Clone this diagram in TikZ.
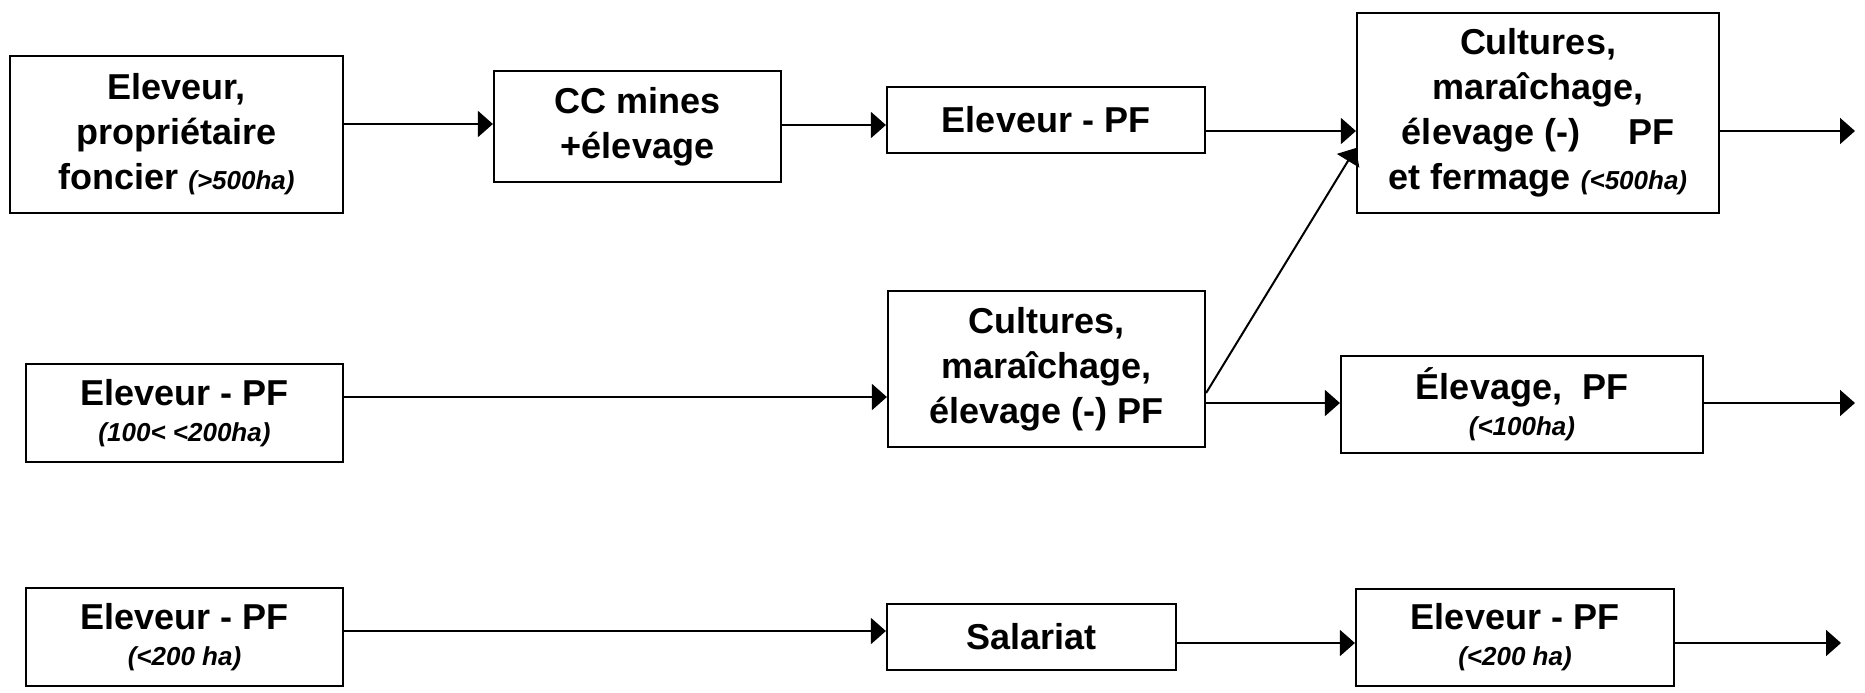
\documentclass[tikz,border=0pt]{standalone}
\usepackage{fontspec}
\setmainfont{Liberation Sans}
\usetikzlibrary{arrows.meta}
\newcommand\smallit[1]{{\fontsize{13}{15}\selectfont\itshape #1}}
\begin{document}
\begin{tikzpicture}[x=0.5pt,y=-0.5pt,
 box/.style={draw, line width=1.1pt, align=center, inner sep=0pt, font=\fontsize{18}{22.5}\selectfont\bfseries},
 arr/.style={line width=1pt, -{Triangle[length=7.5pt,width=13pt]}}]
\useasboundingbox[fill=white] (0,0) rectangle (1865,692);
% row 1
\node[box, minimum width=166.5pt, minimum height=78.5pt] (A) at (176.5,134.5)
 {Eleveur,\\ propriétaire\\ foncier \smallit{(>500ha)}};
\node[box, minimum width=143.5pt, minimum height=55.5pt] (B) at (637.5,126.5)
 {CC mines\\ +élevage};
\node[box, minimum width=159pt, minimum height=33pt] (C) at (1046,120)
 {Eleveur - PF};
\node[box, minimum width=181pt, minimum height=100pt] (D) at (1538,113)
 {Cultures,\\ maraîchage,\\ élevage (-)\hspace{24pt}PF\\ et fermage \smallit{(<500ha)}};
% row 2
\node[box, minimum width=158.5pt, minimum height=49pt] (E) at (184.5,413)
 {Eleveur - PF\\[-4.5pt] \smallit{(100< <200ha)}};
\node[box, minimum width=158.5pt, minimum height=78pt] (F) at (1046.5,369)
 {Cultures,\\ maraîchage,\\ élevage (-) PF};
\node[box, minimum width=181pt, minimum height=48.5pt] (G) at (1522,404.5)
 {Élevage,\ \ PF\\[-4.5pt] \smallit{(<100ha)}};
% row 3
\node[box, minimum width=158.5pt, minimum height=49pt] (H) at (184.5,637)
 {Eleveur - PF\\[-4.5pt] \smallit{(<200 ha)}};
\node[box, minimum width=144.5pt, minimum height=33pt] (S) at (1031.5,637)
 {Salariat};
\node[box, minimum width=159pt, minimum height=48.5pt] (I) at (1515,637.5)
 {Eleveur - PF\\[-4.5pt] \smallit{(<200 ha)}};
% free ends
\coordinate (oD) at (1855,131);
\coordinate (oG) at (1855,403);
\coordinate (oI) at (1841,643);
% connectors
\draw[arr] (A.east |- 0,124) -- (B.west |- 0,124);
\draw[arr] (B.east |- 0,125) -- (C.west |- 0,125);
\draw[arr] (C.east |- 0,131) -- (D.west |- 0,131);
\draw[arr] (D.east |- oD) -- (oD);
\draw[arr] (E.east |- 0,397) -- (F.west |- 0,397);
\draw[arr] (F.east |- 0,403) -- (G.west |- 0,403);
\draw[arr] (F.east |- 0,393) -- (D.west |- 0,148);
\draw[arr] (G.east |- oG) -- (oG);
\draw[arr] (H.east |- 0,631) -- (S.west |- 0,631);
\draw[arr] (S.east |- 0,643) -- (I.west |- 0,643);
\draw[arr] (I.east |- oI) -- (oI);
\end{tikzpicture}
\end{document}
